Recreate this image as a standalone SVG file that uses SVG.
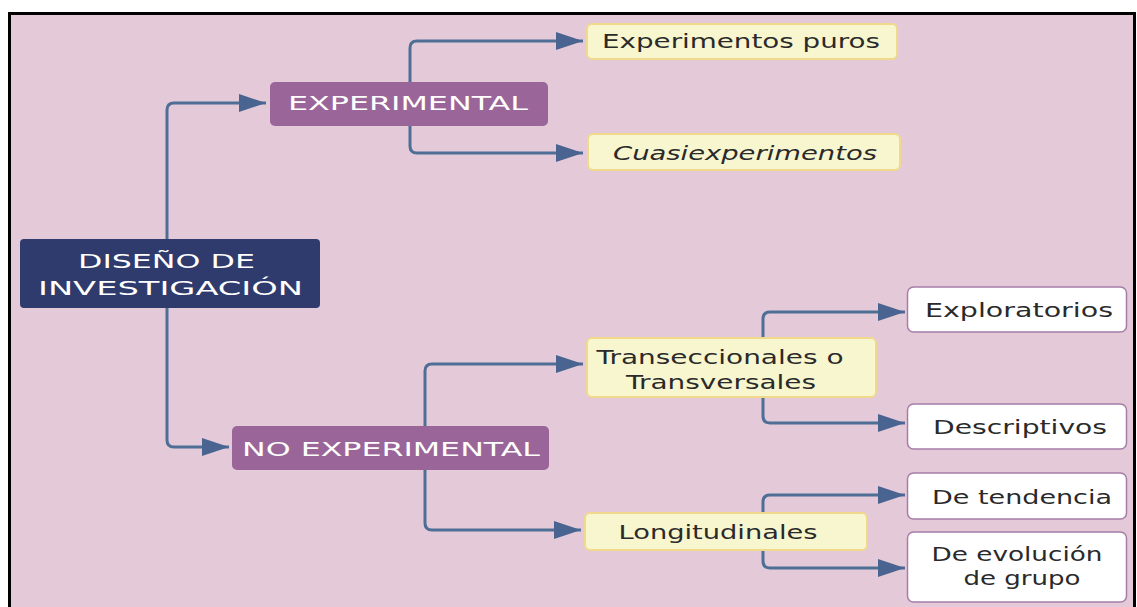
<svg xmlns="http://www.w3.org/2000/svg" width="1137" height="607" viewBox="0 0 1137 607">
<defs>
<style>
.t{font-family:"DejaVu Sans","Noto Sans",sans-serif;text-anchor:middle}
.w{fill:#ffffff;font-size:20px}
.d{fill:#2a2a2a;font-size:19px}
.c{fill:none;stroke:#4E6E96;stroke-width:3}
.cream{fill:#F8F6CF;stroke:#F1D98C;stroke-width:2}
.white{fill:#ffffff;stroke:#A67DA8;stroke-width:1.5}
.purple{fill:#9A6699}
.navy{fill:#2F3B6C}
</style>
<marker id="ah" markerUnits="userSpaceOnUse" markerWidth="28" markerHeight="20" refX="27" refY="9" orient="auto">
<path d="M0,0 L27,9 L0,18 Z" fill="#4A6491"/>
</marker>
</defs>
<rect x="0" y="0" width="1137" height="607" fill="#ffffff"/>
<rect x="9.5" y="13.5" width="1125" height="610" fill="#E4CAD8" stroke="#000000" stroke-width="3"/>
<g id="connectors">
<path class="c" d="M167,239 V110 Q167,103 174,103 H266" marker-end="url(#ah)"/>
<path class="c" d="M167,308 V440 Q167,447 174,447 H229" marker-end="url(#ah)"/>
<path class="c" d="M410,82 V48 Q410,41 417,41 H583" marker-end="url(#ah)"/>
<path class="c" d="M410,126 V146 Q410,153 417,153 H583" marker-end="url(#ah)"/>
<path class="c" d="M425,426 V371 Q425,364 432,364 H583" marker-end="url(#ah)"/>
<path class="c" d="M425,470 V523 Q425,530 432,530 H581" marker-end="url(#ah)"/>
<path class="c" d="M763,338 V319 Q763,312 770,312 H905" marker-end="url(#ah)"/>
<path class="c" d="M763,397 V416 Q763,423 770,423 H905" marker-end="url(#ah)"/>
<path class="c" d="M763,513 V502 Q763,495 770,495 H905" marker-end="url(#ah)"/>
<path class="c" d="M763,550 V561 Q763,568 770,568 H905" marker-end="url(#ah)"/>
</g>
<g id="diseno">
<rect class="navy" x="20" y="239" width="300" height="69" rx="4"/>
<text class="t w" x="166.5" y="268" font-size="21" textLength="177" lengthAdjust="spacingAndGlyphs">DISEÑO DE</text>
<text class="t w" x="170.5" y="295" font-size="21" textLength="265" lengthAdjust="spacingAndGlyphs">INVESTIGACIÓN</text>
</g>
<g id="experimental">
<rect class="purple" x="270" y="82" width="278" height="44" rx="5"/>
<text class="t w" x="408" y="110" textLength="240" lengthAdjust="spacingAndGlyphs">EXPERIMENTAL</text>
</g>
<g id="no-experimental">
<rect class="purple" x="232" y="426" width="317" height="44" rx="5"/>
<text class="t w" x="391" y="456" textLength="298" lengthAdjust="spacingAndGlyphs">NO EXPERIMENTAL</text>
</g>
<g id="experimentos-puros">
<rect class="cream" x="587" y="24" width="310" height="35" rx="5"/>
<text class="t d" x="741" y="48" textLength="278" lengthAdjust="spacingAndGlyphs">Experimentos puros</text>
</g>
<g id="cuasiexperimentos">
<rect class="cream" x="588" y="134" width="312" height="36" rx="5"/>
<text class="t d" x="745" y="160" font-style="italic" textLength="264" lengthAdjust="spacingAndGlyphs">Cuasiexperimentos</text>
</g>
<g id="transeccionales">
<rect class="cream" x="587" y="338" width="289" height="59" rx="5"/>
<text class="t d" x="720" y="364" textLength="247" lengthAdjust="spacingAndGlyphs">Transeccionales o</text>
<text class="t d" x="721" y="389" textLength="190" lengthAdjust="spacingAndGlyphs">Transversales</text>
</g>
<g id="longitudinales">
<rect class="cream" x="585" y="513" width="282" height="37" rx="5"/>
<text class="t d" x="718" y="539" textLength="199" lengthAdjust="spacingAndGlyphs">Longitudinales</text>
</g>
<g id="exploratorios">
<rect class="white" x="907.5" y="287" width="219" height="45" rx="6"/>
<text class="t d" x="1019" y="317" textLength="188" lengthAdjust="spacingAndGlyphs">Exploratorios</text>
</g>
<g id="descriptivos">
<rect class="white" x="907.5" y="404" width="219" height="45" rx="6"/>
<text class="t d" x="1020" y="434" textLength="174" lengthAdjust="spacingAndGlyphs">Descriptivos</text>
</g>
<g id="de-tendencia">
<rect class="white" x="907.5" y="473" width="219" height="46" rx="6"/>
<text class="t d" x="1022" y="504" textLength="180" lengthAdjust="spacingAndGlyphs">De tendencia</text>
</g>
<g id="de-evolucion">
<rect class="white" x="907.5" y="532" width="219" height="70" rx="6"/>
<text class="t d" x="1017" y="561" textLength="171" lengthAdjust="spacingAndGlyphs">De evolución</text>
<text class="t d" x="1022" y="585" textLength="117" lengthAdjust="spacingAndGlyphs">de grupo</text>
</g>
</svg>
